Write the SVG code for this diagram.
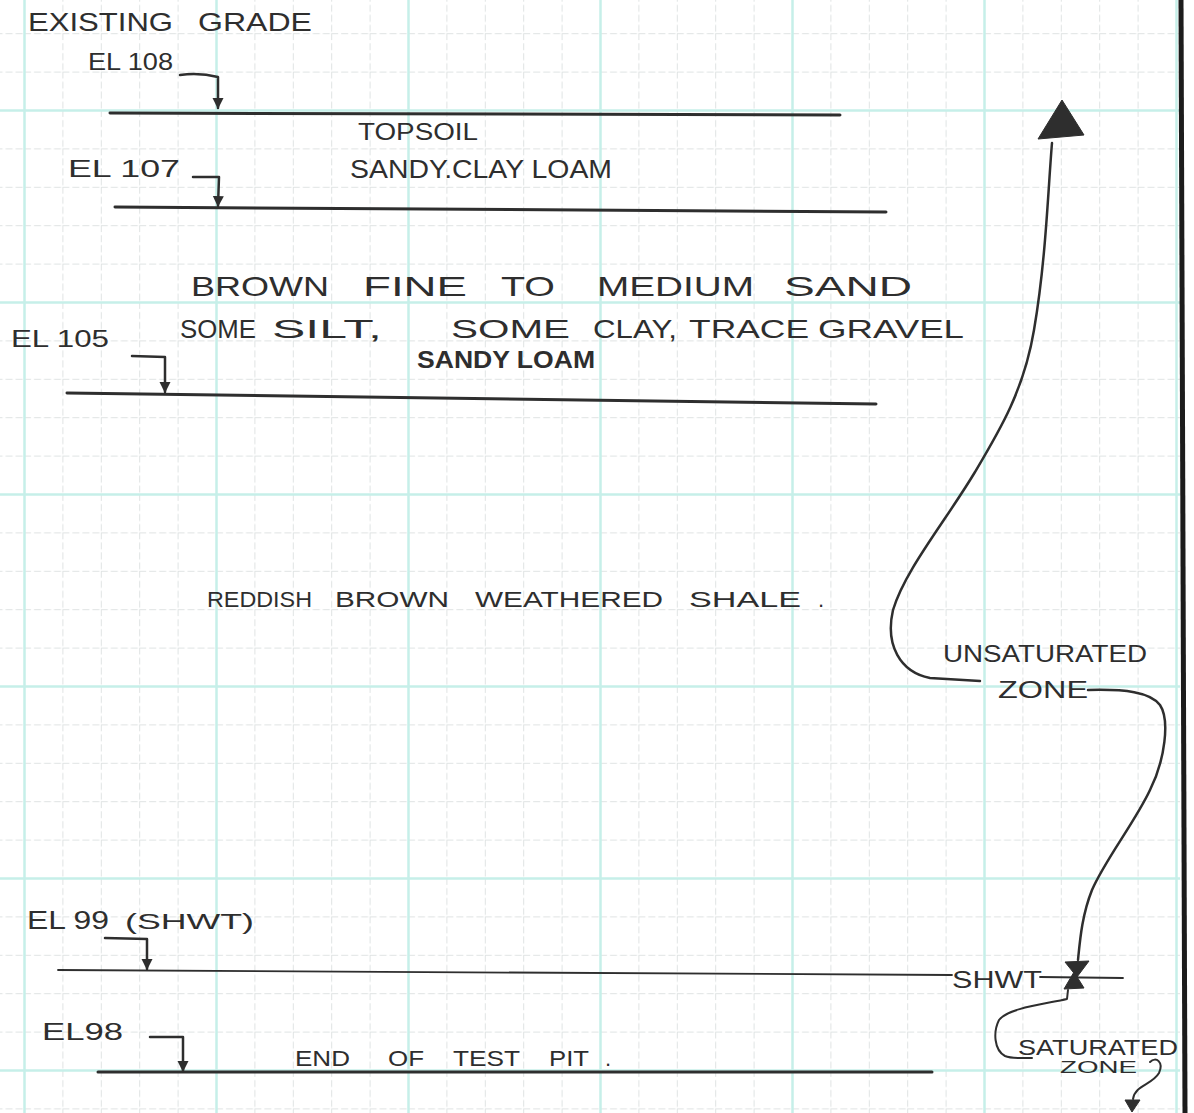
<svg xmlns="http://www.w3.org/2000/svg" width="1194" height="1113" viewBox="0 0 1194 1113">
  <defs>
    <style>
      .ink { stroke: #2e2e2e; fill: none; stroke-linecap: round; stroke-linejoin: round; }
      .hand { font-family: "Liberation Sans", "DejaVu Sans", sans-serif; fill: #2e2e2e; }
      .lbl { font-size: 24px; }
      .big { font-size: 28px; }
      .mid { font-size: 26px; }
      .sm { font-size: 22px; }
      .head { fill: #2e2e2e; stroke: #2e2e2e; stroke-width: 1; stroke-linejoin: round; }
    </style>
    <pattern id="minor" patternUnits="userSpaceOnUse" x="24" y="110" width="38.4" height="38.4">
      <path d="M0,0.5 H38.4 M0.5,0 V38.4" stroke="#dfe3e3" stroke-width="1" stroke-dasharray="7 3" fill="none"/>
    </pattern>
    <pattern id="major" patternUnits="userSpaceOnUse" x="23" y="109" width="192" height="192">
      <path d="M0,1.5 H192 M1.5,0 V192" stroke="#c6efe9" stroke-width="2.5" fill="none"/>
    </pattern>
    <marker id="ah" viewBox="0 0 10 10" refX="9" refY="5" markerWidth="11" markerHeight="13" markerUnits="userSpaceOnUse" orient="auto">
      <path d="M0,0 L10,5 L0,10 z" fill="#2e2e2e"/>
    </marker>
  </defs>

  <rect width="1194" height="1113" fill="#ffffff"/>
  <g id="grid">
    <rect width="1180" height="1113" fill="url(#minor)"/>
    <rect width="1180" height="1113" fill="url(#major)"/>
  </g>
  <path id="border" d="M1181,0 L1185,1113" stroke="#1c1c1c" stroke-width="5" fill="none"/>

  <g id="layer-lines">
    <path class="ink" d="M110,113 L840,115" stroke-width="3"/>
    <path class="ink" d="M115,207 L886,212" stroke-width="3"/>
    <path class="ink" d="M67,393 L876,404" stroke-width="3"/>
    <path class="ink" d="M58,970 L952,975 M1040,977 L1123,978" stroke-width="1.8"/>
    <path class="ink" d="M98,1072 L932,1072" stroke-width="3"/>
  </g>

  <g id="el108">
    <text class="hand mid" x="28" y="31"><tspan x="28" textLength="145" lengthAdjust="spacingAndGlyphs">EXISTING</tspan><tspan x="198" textLength="114" lengthAdjust="spacingAndGlyphs">GRADE</tspan></text>
    <text class="hand lbl" x="88" y="70" textLength="85" lengthAdjust="spacingAndGlyphs">EL 108</text>
  </g>
  <g id="topsoil">
    <text class="hand lbl" x="358" y="140" textLength="120" lengthAdjust="spacingAndGlyphs">TOPSOIL</text>
    <text class="hand mid" x="350" y="178" textLength="262" lengthAdjust="spacingAndGlyphs">SANDY.CLAY LOAM</text>
  </g>
  <g id="el107">
    <text class="hand lbl" x="68" y="177" textLength="112" lengthAdjust="spacingAndGlyphs">EL 107</text>
  </g>
  <g id="sand">
    <text class="hand big" y="296"><tspan x="191" textLength="138" lengthAdjust="spacingAndGlyphs">BROWN</tspan><tspan x="363" textLength="104" lengthAdjust="spacingAndGlyphs">FINE</tspan><tspan x="501" textLength="54" lengthAdjust="spacingAndGlyphs">TO</tspan><tspan x="597" textLength="157" lengthAdjust="spacingAndGlyphs">MEDIUM</tspan><tspan x="784" textLength="128" lengthAdjust="spacingAndGlyphs">SAND</tspan></text>
    <text class="hand mid" y="338"><tspan x="180" textLength="76" lengthAdjust="spacingAndGlyphs">SOME</tspan><tspan x="272" textLength="110" lengthAdjust="spacingAndGlyphs">SILT,</tspan><tspan x="451" textLength="119" lengthAdjust="spacingAndGlyphs">SOME</tspan><tspan x="593" textLength="84" lengthAdjust="spacingAndGlyphs">CLAY,</tspan><tspan x="689" textLength="120" lengthAdjust="spacingAndGlyphs">TRACE</tspan><tspan x="818" textLength="146" lengthAdjust="spacingAndGlyphs">GRAVEL</tspan></text>
    <text class="hand lbl" x="417" y="368" textLength="178" lengthAdjust="spacingAndGlyphs" font-weight="bold">SANDY LOAM</text>
  </g>
  <g id="el105">
    <text class="hand lbl" x="11" y="347" textLength="98" lengthAdjust="spacingAndGlyphs">EL 105</text>
  </g>
  <g id="shale">
    <text class="hand sm" y="607"><tspan x="207" textLength="105" lengthAdjust="spacingAndGlyphs">REDDISH</tspan><tspan x="335" textLength="114" lengthAdjust="spacingAndGlyphs">BROWN</tspan><tspan x="475" textLength="188" lengthAdjust="spacingAndGlyphs">WEATHERED</tspan><tspan x="689" textLength="112" lengthAdjust="spacingAndGlyphs">SHALE</tspan><tspan x="818">.</tspan></text>
  </g>
  <g id="unsaturated">
    <text class="hand lbl" x="943" y="662" textLength="204" lengthAdjust="spacingAndGlyphs">UNSATURATED</text>
    <text class="hand lbl" x="998" y="698" textLength="90" lengthAdjust="spacingAndGlyphs">ZONE</text>
  </g>
  <g id="el99">
    <text class="hand mid" y="929"><tspan x="27" textLength="82" lengthAdjust="spacingAndGlyphs">EL 99</tspan><tspan x="125" textLength="129" lengthAdjust="spacingAndGlyphs" font-size="22">(SHWT)</tspan></text>
    <text class="hand lbl" x="952" y="988" textLength="90" lengthAdjust="spacingAndGlyphs">SHWT</text>
  </g>
  <g id="el98">
    <text class="hand lbl" x="42" y="1040" textLength="81" lengthAdjust="spacingAndGlyphs">EL98</text>
    <text class="hand sm" y="1066"><tspan x="295" textLength="55" lengthAdjust="spacingAndGlyphs">END</tspan><tspan x="388" textLength="36" lengthAdjust="spacingAndGlyphs">OF</tspan><tspan x="453" textLength="67" lengthAdjust="spacingAndGlyphs">TEST</tspan><tspan x="549" textLength="40" lengthAdjust="spacingAndGlyphs">PIT</tspan><tspan x="605">.</tspan></text>
  </g>
  <g id="saturated">
    <text class="hand sm" x="1018" y="1055" textLength="160" lengthAdjust="spacingAndGlyphs">SATURATED</text>
    <text class="hand" font-size="16" x="1060" y="1073" textLength="77" lengthAdjust="spacingAndGlyphs">ZONE</text>
  </g>

  <g id="connectors">
    <path class="ink" stroke-width="2.5" d="M180,75 C195,73 210,75 218,77 L218,108" marker-end="url(#ah)"/>
    <path class="ink" stroke-width="2.5" d="M193,177 L219,177 L218,206" marker-end="url(#ah)"/>
    <path class="ink" stroke-width="2.5" d="M132,356 L165,357 L165,392" marker-end="url(#ah)"/>
    <path class="ink" stroke-width="2.5" d="M105,938 L147,939 L147,969" marker-end="url(#ah)"/>
    <path class="ink" stroke-width="2.5" d="M150,1037 L183,1037 L183,1071" marker-end="url(#ah)"/>

    <polygon class="head" points="1062,100 1038,139 1084,135" fill="#444444"/>
    <path class="ink" stroke-width="2.5" d="M1052,143 C1048,190 1046,260 1034,330 C1024,390 1000,430 975,472 C945,522 905,570 893,610 C885,645 900,672 930,678 L980,681"/>
    <path class="ink" stroke-width="2.5" d="M1088,690 C1125,689 1150,692 1160,705 C1170,720 1165,760 1150,790 C1135,822 1105,860 1092,890 C1082,915 1080,940 1078,960"/>
    <polygon class="head" points="1065,962 1089,961 1077,977"/>
    <polygon class="head" points="1064,989 1084,988 1074,972"/>
    <path class="ink" stroke-width="2" d="M1068,990 L1067,999 C1045,1004 1008,1008 999,1020 C993,1032 994,1050 1005,1056 C1012,1059 1022,1058 1032,1058"/>
    <path class="ink" stroke-width="2" d="M1150,1062 C1156,1056 1164,1062 1159,1073 C1152,1085 1135,1085 1133,1099"/>
    <polygon class="head" points="1125,1100 1140,1100 1132,1112"/>
  </g>
</svg>
